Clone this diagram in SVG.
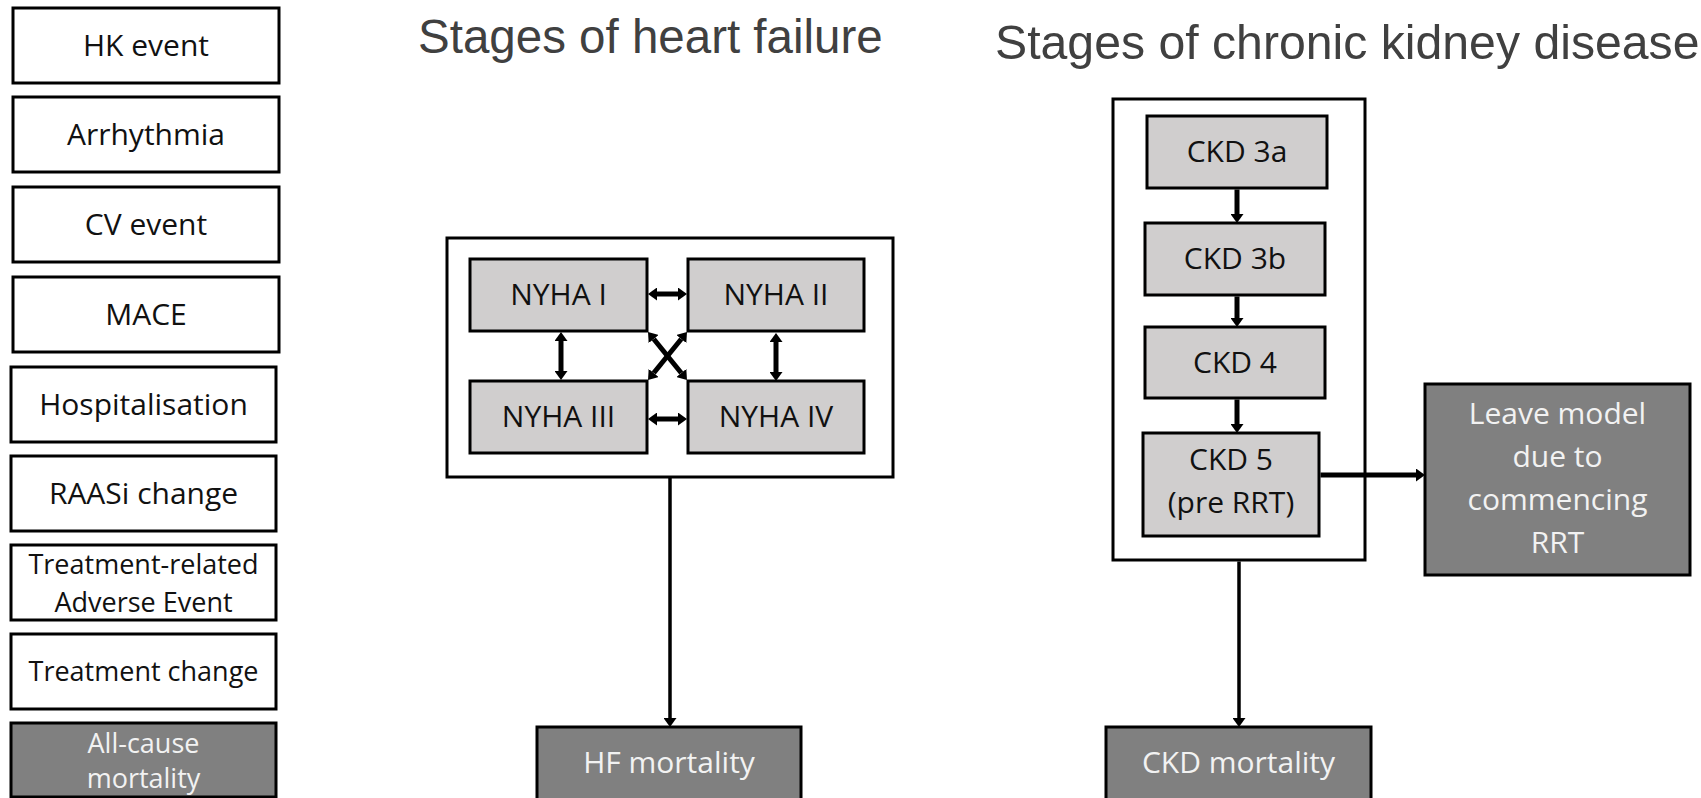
<svg xmlns="http://www.w3.org/2000/svg" width="1701" height="798" viewBox="0 0 1701 798">
<style>
.box{fill:#ffffff;stroke:#000;stroke-width:3}
.lg{fill:#d0cece;stroke:#000;stroke-width:3}
.dg{fill:#808080;stroke:#000;stroke-width:3}
.t{font-family:"Open Sans","Noto Sans",sans-serif;font-size:30px;fill:#111;text-anchor:middle}
.t27{font-size:27px}
.w{fill:#f2f2f2}
.title{font-family:"Liberation Sans",Arial,sans-serif;font-size:47.5px;fill:#404040}
.c{fill:none;stroke:#000;stroke-width:5}
.c3{stroke-width:3.5}
</style>
<defs>
<marker id="ah" viewBox="0 0 9 13" markerWidth="9" markerHeight="13" refX="0" refY="6.5" orient="auto-start-reverse" markerUnits="userSpaceOnUse">
<path d="M0,0 L9,6.5 L0,13 z" fill="#000"/>
</marker>
</defs>

<g id="legend-hk"><rect class="box" x="13" y="8" width="266" height="75"/><text class="t" x="146" y="56">HK event</text></g>
<g id="legend-arrhythmia"><rect class="box" x="13" y="97" width="266" height="75"/><text class="t" x="146" y="145">Arrhythmia</text></g>
<g id="legend-cv"><rect class="box" x="13" y="187" width="266" height="75"/><text class="t" x="146" y="235">CV event</text></g>
<g id="legend-mace"><rect class="box" x="13" y="277" width="266" height="75"/><text class="t" x="146" y="325">MACE</text></g>
<g id="legend-hosp"><rect class="box" x="11" y="367" width="265" height="75"/><text class="t" x="143.5" y="415">Hospitalisation</text></g>
<g id="legend-raasi"><rect class="box" x="11" y="456" width="265" height="75"/><text class="t" x="143.5" y="504">RAASi change</text></g>
<g id="legend-trae"><rect class="box" x="11" y="545" width="265" height="75"/><text class="t t27" x="143.5" y="574">Treatment-related</text><text class="t t27" x="143.5" y="612">Adverse Event</text></g>
<g id="legend-tc"><rect class="box" x="11" y="634" width="265" height="75"/><text class="t t27" x="143.5" y="681">Treatment change</text></g>
<g id="legend-acm"><rect class="dg" x="11" y="723" width="265" height="74"/><text class="t t27 w" x="143.5" y="753">All-cause</text><text class="t t27 w" x="143.5" y="788">mortality</text></g>

<text class="title" x="418" y="53">Stages of heart failure</text>
<text class="title" x="995" y="59" style="font-size:48.2px">Stages of chronic kidney disease</text>

<g id="hf-stages"><rect class="box" x="447" y="238" width="446" height="239"/></g>
<g id="nyha1"><rect class="lg" x="470" y="259" width="177" height="72"/><text class="t" x="558.5" y="305">NYHA I</text></g>
<g id="nyha2"><rect class="lg" x="688" y="259" width="176" height="72"/><text class="t" x="776" y="305">NYHA II</text></g>
<g id="nyha3"><rect class="lg" x="470" y="381" width="177" height="72"/><text class="t" x="558.5" y="427">NYHA III</text></g>
<g id="nyha4"><rect class="lg" x="688" y="381" width="176" height="72"/><text class="t" x="776" y="427">NYHA IV</text></g>
<g id="hf-mortality"><rect class="dg" x="537" y="727" width="264" height="76"/><text class="t w" x="669" y="773">HF mortality</text></g>

<g id="ckd-stages"><rect class="box" x="1113" y="99" width="252" height="461"/></g>
<g id="ckd3a"><rect class="lg" x="1147" y="116" width="180" height="72"/><text class="t" x="1237" y="162">CKD 3a</text></g>
<g id="ckd3b"><rect class="lg" x="1145" y="223" width="180" height="72"/><text class="t" x="1235" y="269">CKD 3b</text></g>
<g id="ckd4"><rect class="lg" x="1145" y="327" width="180" height="71"/><text class="t" x="1235" y="373">CKD 4</text></g>
<g id="ckd5"><rect class="lg" x="1143" y="433" width="176" height="103"/><text class="t" x="1231" y="470">CKD 5</text><text class="t" x="1231" y="513">(pre RRT)</text></g>
<g id="leave-model"><rect class="dg" x="1425" y="384" width="265" height="191"/><text class="t w" x="1557.5" y="424">Leave model</text><text class="t w" x="1557.5" y="467">due to</text><text class="t w" x="1557.5" y="510">commencing</text><text class="t w" x="1557.5" y="553">RRT</text></g>
<g id="ckd-mortality"><rect class="dg" x="1106" y="727" width="265" height="76"/><text class="t w" x="1238.5" y="773">CKD mortality</text></g>

<g id="connectors">
<path class="c" d="M657,294 H678" marker-start="url(#ah)" marker-end="url(#ah)"/>
<path class="c" d="M657,419 H678" marker-start="url(#ah)" marker-end="url(#ah)"/>
<path class="c" d="M561,341 V371" marker-start="url(#ah)" marker-end="url(#ah)"/>
<path class="c" d="M776,342 V372" marker-start="url(#ah)" marker-end="url(#ah)"/>
<path class="c" d="M653.7,339 L681.3,373" marker-start="url(#ah)" marker-end="url(#ah)"/>
<path class="c" d="M681.3,339 L653.7,373" marker-start="url(#ah)" marker-end="url(#ah)"/>
<path class="c c3" d="M670,478 V718" marker-end="url(#ah)"/>
<path class="c" d="M1237,189.5 V214" marker-end="url(#ah)"/>
<path class="c" d="M1237,296.5 V318" marker-end="url(#ah)"/>
<path class="c" d="M1237,399.5 V424" marker-end="url(#ah)"/>
<path class="c" d="M1320.5,475 H1416" marker-end="url(#ah)"/>
<path class="c c3" d="M1239,561.5 V718" marker-end="url(#ah)"/>
</g>
</svg>
